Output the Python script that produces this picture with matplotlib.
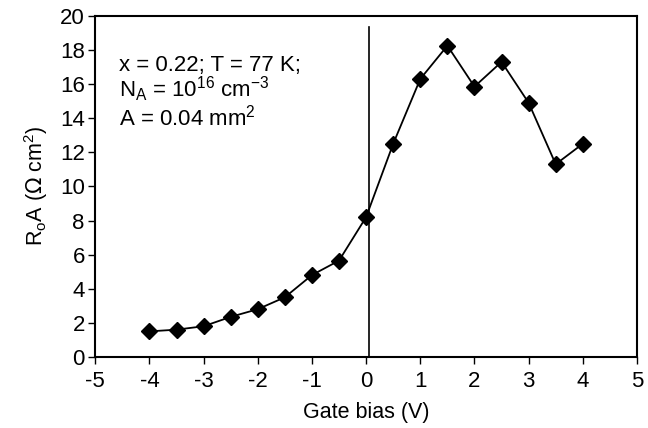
import matplotlib
matplotlib.use('Agg')
import matplotlib.pyplot as plt

plt.rcParams['font.family'] = ['Liberation Sans', 'DejaVu Sans']
plt.rcParams['axes.unicode_minus'] = False

gate_bias = [-4, -3.5, -3, -2.5, -2, -1.5, -1, -0.5, 0, 0.5, 1, 1.5, 2, 2.5, 3, 3.5, 4]
r0a = [1.5, 1.6, 1.8, 2.35, 2.8, 3.5, 4.8, 5.65, 8.2, 12.5, 16.3, 18.25, 15.85, 17.3, 14.9, 11.3, 12.5]

x_ticks = [-5, -4, -3, -2, -1, 0, 1, 2, 3, 4, 5]
y_ticks = [0, 2, 4, 6, 8, 10, 12, 14, 16, 18, 20]

info_lines = ['x = 0.22; T = 77 K;',
              'N$_\\mathregular{A}$ = 10$^\\mathregular{16}$ cm$^\\mathregular{-3}$',
              'A = 0.04 mm$^\\mathregular{2}$']
info_y = [16.75, 15.25, 13.55]

fig, ax = plt.subplots(figsize=(6.48, 4.28), dpi=100)
fig.subplots_adjust(left=0.147, right=0.983, top=0.963, bottom=0.166)

ax.plot(gate_bias, r0a, c='black', lw=1.3, marker='D', ms=8, mfc='black', mec='black')
# vertical marker at zero bias
ax.plot([0.05, 0.05], [0, 19.35], c='black', lw=1.2)

ax.set_xlim(-5, 5)
ax.set_ylim(0, 20)
ax.set_xticks(x_ticks)
ax.set_yticks(y_ticks)
ax.tick_params(direction='out', length=5, width=1, labelsize=16)
ax.tick_params(axis='x', pad=5)
ax.tick_params(axis='y', pad=2.5)
for s in ax.spines.values():
    s.set_linewidth(1.5)

ax.set_xlabel('Gate bias (V)', fontsize=15.5, labelpad=7)
ax.set_ylabel('R$_\\mathregular{o}$A ($\\Omega$ cm$^\\mathregular{2}$)', fontsize=15.5, labelpad=7)

for line, yy in zip(info_lines, info_y):
    ax.text(-4.57, yy, line, fontsize=16, va='baseline')

fig.savefig('out.png')
